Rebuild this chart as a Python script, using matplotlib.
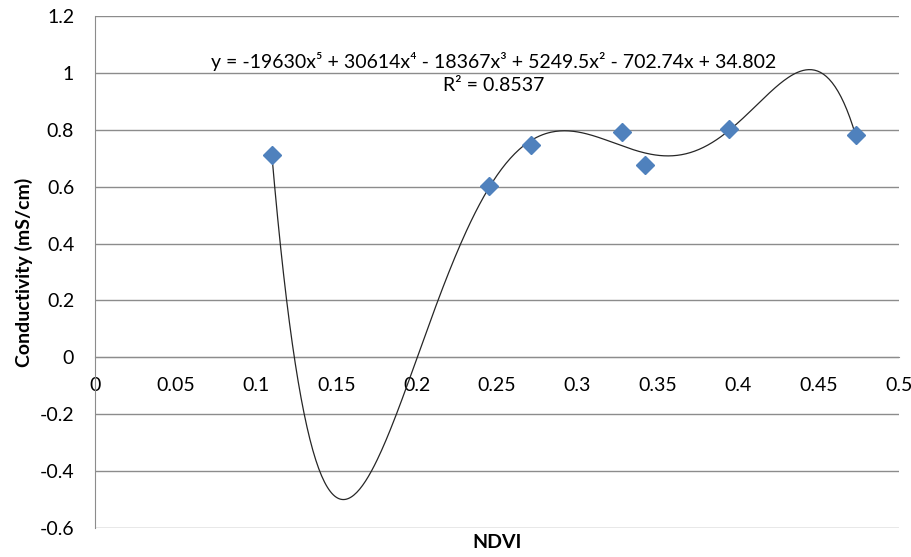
import numpy as np
import matplotlib
matplotlib.use("Agg")
import matplotlib.pyplot as plt

plt.rcParams['font.family'] = ['Lato', 'DejaVu Sans']

# Data
ndvi = [0.110, 0.245, 0.271, 0.328, 0.342, 0.394, 0.473]
conductivity = [0.711, 0.603, 0.746, 0.791, 0.675, 0.801, 0.781]

# Trendline label as printed on the chart
trend_equation = "y = -19630x\u2075 + 30614x\u2074 - 18367x\u00b3 + 5249.5x\u00b2 - 702.74x + 34.802"
r_squared_label = "R\u00b2 = 0.8537"
trend_degree = 5

x_ticks = [0, 0.05, 0.1, 0.15, 0.2, 0.25, 0.3, 0.35, 0.4, 0.45, 0.5]
x_tick_labels = ['0', '0.05', '0.1', '0.15', '0.2', '0.25', '0.3', '0.35', '0.4', '0.45', '0.5']
y_ticks = [-0.6, -0.4, -0.2, 0, 0.2, 0.4, 0.6, 0.8, 1.0, 1.2]
y_tick_labels = ['-0.6', '-0.4', '-0.2', '0', '0.2', '0.4', '0.6', '0.8', '1', '1.2']

fig = plt.figure(figsize=(9.12, 5.57), dpi=100)
ax = fig.add_axes([95/912, 1 - 528/557, (899-95)/912, (528-16)/557])

grid_color = '#8c8c8c'
ax.set_xlim(0, 0.5)
ax.set_ylim(-0.6, 1.2)
ax.set_yticks(y_ticks)
ax.set_yticklabels(y_tick_labels)
ax.set_xticks(x_ticks)
ax.set_xticklabels(x_tick_labels)
ax.yaxis.grid(True, color=grid_color, linewidth=1.0)
ax.set_axisbelow(True)

for side in ['top', 'right']:
    ax.spines[side].set_visible(False)
ax.spines['left'].set_color(grid_color)
ax.spines['bottom'].set_position(('data', 0))
ax.spines['bottom'].set_color(grid_color)
ax.tick_params(axis='both', length=0, labelsize=14, colors='black')
ax.tick_params(axis='y', pad=15)
ax.tick_params(axis='x', pad=14)

# Trendline (least-squares polynomial of the points)
fit = np.polyfit(ndvi, conductivity, trend_degree)
xs = np.linspace(min(ndvi), max(ndvi), 400)
ax.plot(xs, np.polyval(fit, xs), color='#262626', linewidth=0.9, zorder=3)

# Points
ax.plot(ndvi, conductivity, linestyle='none', marker='D', markersize=9.5,
        color='#4F81BD', markeredgecolor='#4F81BD', zorder=4)

ax.text(0.2478, 1.075, trend_equation + "\n" + r_squared_label,
        ha='center', va='top', fontsize=14, linespacing=1.45)

ax.set_ylabel('Conductivity (mS/cm)', fontsize=14, fontweight='bold')
ax.yaxis.set_label_coords(-0.077, 0.5)
ax.set_xlabel('NDVI', fontsize=14, fontweight='bold')
ax.xaxis.set_label_coords(0.5, -0.012)

fig.savefig('out.png', dpi=100)
